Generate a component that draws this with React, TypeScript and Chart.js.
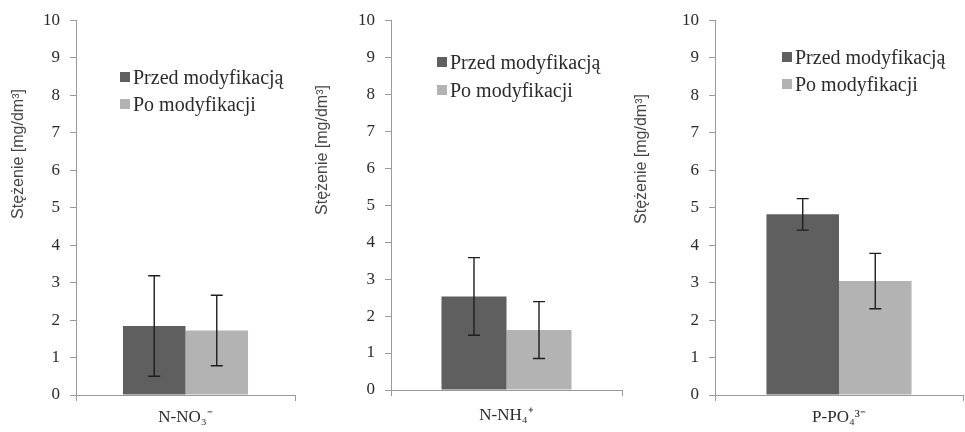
import React, { useEffect, useRef } from "react";
import { Chart, registerables } from "chart.js";

Chart.register(...registerables);

// ---- data ----
const categories = ["N-NO₃⁻", "N-NH₄⁺", "P-PO₄³⁻"];
const seriesLabels = ["Przed modyfikacją", "Po modyfikacji"];
const beforeValues = [1.84, 2.53, 4.82];
const afterValues = [1.72, 1.62, 3.04];
const beforeErrors = [1.34, 1.05, 0.42];
const afterErrors = [0.94, 0.77, 0.74];
const yMin = 0;
const yMax = 10;
const yStep = 1;
const yTitle = "Stężenie [mg/dm³]";

// ---- styles ----
const COLORS = ["#5f5f5f", "#b3b3b3"];
const AXIS_COLOR = "#9a9a9a";
const TEXT_COLOR = "#2a2a2a";
const SERIF = '"Liberation Serif", "Times New Roman", serif';
const SANS = '"Liberation Sans", Arial, sans-serif';

type PanelLayout = {
  left: number;
  width: number;
  axisWidth: number;
  padTop: number;
  padRight: number;
  xHeight: number;
  labelPad: number;
  titleX: number;
  titleY: number;
  catPct: number;
  legendX: number;
  legendY: number;
  legendGap: number;
};

const panelLayouts: PanelLayout[] = [
  { left: 0, width: 305, axisWidth: 76, padTop: 20, padRight: 10, xHeight: 37, labelPad: 6, titleX: 19, titleY: 154, catPct: 0.571, legendX: 120, legendY: 77, legendGap: 27 },
  { left: 305, width: 325, axisWidth: 86, padTop: 20, padRight: 8, xHeight: 42, labelPad: 9, titleX: 18, titleY: 150, catPct: 0.563, legendX: 132, legendY: 62, legendGap: 28 },
  { left: 630, width: 335, axisWidth: 85, padTop: 15, padRight: 2, xHeight: 37, labelPad: 6, titleX: 12, titleY: 159, catPct: 0.585, legendX: 152, legendY: 57, legendGap: 27 },
];

const errorBarPlugin = {
  id: "errorBars",
  afterDatasetsDraw(chart: any, _args: any, opts: any) {
    const ctx = chart.ctx;
    const yScale = chart.scales.y;
    const errs: number[][] = opts.errors || [];
    chart.data.datasets.forEach((ds: any, i: number) => {
      const meta = chart.getDatasetMeta(i);
      meta.data.forEach((bar: any, j: number) => {
        const v = ds.data[j];
        const e = errs[i] ? errs[i][j] : 0;
        const top = yScale.getPixelForValue(v + e);
        const bot = yScale.getPixelForValue(v - e);
        const cap = 6;
        ctx.save();
        ctx.strokeStyle = "#1e1e1e";
        ctx.lineWidth = 1.4;
        ctx.beginPath();
        ctx.moveTo(bar.x, top);
        ctx.lineTo(bar.x, bot);
        ctx.moveTo(bar.x - cap, top);
        ctx.lineTo(bar.x + cap, top);
        ctx.moveTo(bar.x - cap, bot);
        ctx.lineTo(bar.x + cap, bot);
        ctx.stroke();
        ctx.restore();
      });
    });
  },
};

const yTitlePlugin = {
  id: "yTitleCustom",
  afterDraw(chart: any, _args: any, opts: any) {
    const ctx = chart.ctx;
    ctx.save();
    ctx.translate(opts.x, opts.y);
    ctx.rotate(-Math.PI / 2);
    ctx.font = `16px ${SANS}`;
    ctx.fillStyle = "#444";
    ctx.textAlign = "center";
    ctx.textBaseline = "middle";
    ctx.fillText(opts.text, 0, 0);
    ctx.restore();
  },
};

function Panel({ index }: { index: number }) {
  const ref = useRef<HTMLCanvasElement>(null);
  const L = panelLayouts[index];

  useEffect(() => {
    if (!ref.current) return;
    const chart = new Chart(ref.current, {
      type: "bar",
      data: {
        labels: [categories[index]],
        datasets: [
          {
            label: seriesLabels[0],
            data: [beforeValues[index]],
            backgroundColor: COLORS[0],
            borderWidth: 0,
            barPercentage: 1,
            categoryPercentage: L.catPct,
          },
          {
            label: seriesLabels[1],
            data: [afterValues[index]],
            backgroundColor: COLORS[1],
            borderWidth: 0,
            barPercentage: 1,
            categoryPercentage: L.catPct,
          },
        ],
      },
      options: {
        responsive: false,
        animation: false,
        layout: { padding: { left: 0, top: L.padTop, right: L.padRight, bottom: 0 } },
        plugins: {
          legend: { display: false },
          tooltip: { enabled: false },
          errorBars: { errors: [[beforeErrors[index]], [afterErrors[index]]] },
          yTitleCustom: { text: yTitle, x: L.titleX, y: L.titleY },
        } as any,
        scales: {
          x: {
            grid: { display: true, drawOnChartArea: false, drawTicks: true, tickLength: 6, color: AXIS_COLOR, offset: true },
            border: { color: AXIS_COLOR, width: 1 },
            ticks: { color: TEXT_COLOR, font: { family: SERIF, size: 17 }, padding: L.labelPad },
            afterFit: (s: any) => {
              s.height = L.xHeight;
            },
          },
          y: {
            min: yMin,
            max: yMax,
            grid: { display: true, drawOnChartArea: false, drawTicks: true, tickLength: 6, color: AXIS_COLOR },
            border: { color: AXIS_COLOR, width: 1 },
            ticks: { stepSize: yStep, color: TEXT_COLOR, font: { family: SERIF, size: 17 }, padding: 10 },
            afterFit: (s: any) => {
              s.width = L.axisWidth;
            },
          },
        },
      },
      plugins: [errorBarPlugin, yTitlePlugin],
    });
    return () => chart.destroy();
  }, [index]);

  return (
    <div style={{ position: "absolute", left: L.left, top: 0, width: L.width, height: 432 }}>
      <canvas ref={ref} width={L.width} height={432} style={{ width: L.width, height: 432, display: "block" }} />
      <div style={{ position: "absolute", left: L.legendX, top: L.legendY - L.legendGap / 2 }}>
        {seriesLabels.map((s, i) => (
          <div
            key={s}
            style={{
              display: "flex",
              alignItems: "center",
              height: L.legendGap,
              fontFamily: SERIF,
              fontSize: 20,
              color: TEXT_COLOR,
              whiteSpace: "nowrap",
            }}
          >
            <span style={{ display: "inline-block", width: 10, height: 10, background: COLORS[i], marginRight: 3 }} />
            <span>{s}</span>
          </div>
        ))}
      </div>
    </div>
  );
}

export default function App() {
  return (
    <div style={{ position: "absolute", left: 0, top: 0, width: 965, height: 432, background: "#fff" }}>
      {categories.map((_, i) => (
        <Panel key={i} index={i} />
      ))}
    </div>
  );
}
